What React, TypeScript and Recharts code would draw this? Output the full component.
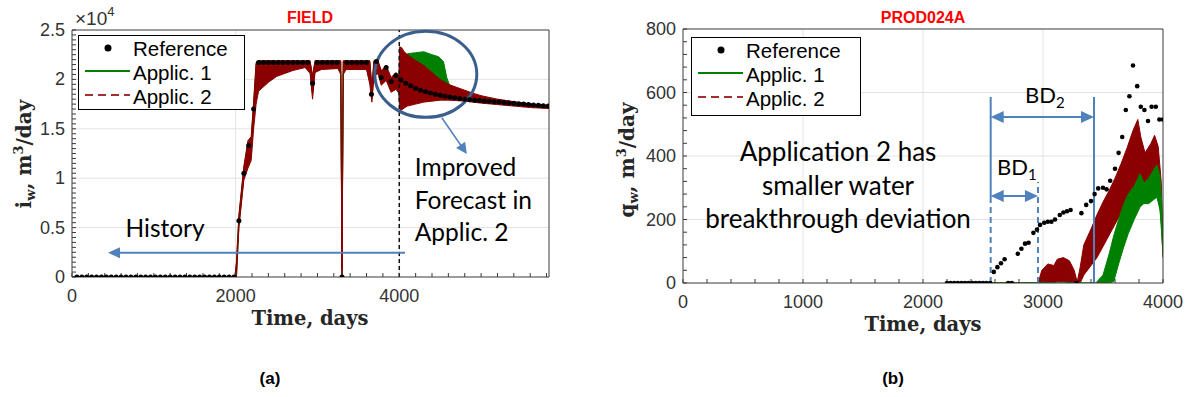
import React from "react";
import { Area, CartesianGrid, ComposedChart, Legend, Line, ReferenceDot, ReferenceLine, XAxis, YAxis } from "recharts";

// ---------- (a) FIELD: water injection rate ----------
const fieldXTicks = [0, 2000, 4000];
const fieldYTicks = [0, 5000, 10000, 15000, 20000, 25000];

const fieldRefDays = [
  60, 120, 180, 240, 300, 360, 420, 480, 540, 600, 660, 720, 780, 840, 900, 960, 1020, 1080, 1140, 1200, 1260, 1320,
  1380, 1440, 1500, 1560, 1620, 1680, 1740, 1800, 1860, 1920, 1980, 2040, 2100, 2160, 2220, 2280, 2340, 2400, 2460,
  2520, 2580, 2640, 2700, 2760, 2820, 2880, 2940, 3000, 3060, 3120, 3180, 3240, 3300, 3360, 3420, 3480, 3540, 3600,
  3660, 3720, 3780, 3840, 3900, 3960, 4020, 4080, 4140, 4200, 4260, 4320, 4380, 4440, 4500, 4560, 4620, 4680, 4740,
  4800, 4860, 4920, 4980, 5040, 5100, 5160, 5220, 5280, 5340, 5400, 5460, 5520, 5580, 5640, 5700, 5760, 5820,
];
const fieldRefRate = [
  0, 0, 0, 0, 0, 0, 0, 0, 0, 0, 0, 0, 0, 0, 0, 0, 0, 0, 0, 0, 0, 0, 0, 0, 0, 0, 0, 0, 0, 0, 0, 0, 0, 5700, 10500,
  13300, 17000, 21700, 21700, 21700, 21700, 21700, 21700, 21700, 21700, 21700, 21700, 21700, 19600, 21700, 21700,
  21700, 21700, 21700, 0, 21700, 21700, 21700, 21700, 21700, 18500, 21800, 20200, 21200, 19800, 20400, 19950, 19600,
  19350, 19100, 18900, 18750, 18620, 18500, 18400, 18300, 18220, 18140, 18070, 18000, 17950, 17900, 17860, 17820,
  17780, 17740, 17700, 17660, 17620, 17580, 17540, 17500, 17460, 17420, 17380, 17340, 17300,
];

const fieldApp1Days = [
  0, 1990, 2010, 2040, 2100, 2150, 2190, 2220, 2250, 2280, 2320, 2400, 2500, 2600, 2700, 2850, 2910, 2940, 2970, 3050,
  3250, 3285, 3300, 3315, 3350, 3600, 3640, 3665, 3690, 3740, 3780, 3840, 3900, 3960, 3995, 4005, 4050, 4100, 4200,
  4300, 4400, 4480, 4540, 4580, 4620, 4700, 4800, 5000, 5400, 5830,
];
const fieldApp1Low = [
  0, 0, 0, 5200, 10000, 12000, 12500, 16000, 18500, 20000, 20500, 20800, 21000, 21000, 21100, 21300, 20900, 18500,
  20900, 21100, 21200, 20800, 0, 20800, 21100, 21100, 19800, 18000, 20500, 20800, 19600, 20100, 19000, 19200, 18800,
  17500, 17800, 18100, 18400, 18500, 18450, 18400, 18300, 18300, 18250, 18150, 18000, 17750, 17400, 17150,
];
const fieldApp1High = [
  0, 0, 1400, 6100, 11000, 13500, 14000, 17500, 21500, 21800, 21800, 21800, 21800, 21800, 21800, 21800, 21800, 20200,
  21800, 21800, 21800, 21800, 600, 21800, 21800, 21800, 21800, 19100, 21800, 21800, 20800, 21300, 20100, 20600, 20200,
  21500, 22100, 22600, 22700, 22800, 22500, 22300, 21800, 20200, 19300, 18700, 18400, 18200, 17700, 17350,
];

const fieldApp2Days = [
  0, 1990, 2010, 2040, 2100, 2150, 2190, 2220, 2250, 2280, 2320, 2400, 2500, 2600, 2700, 2850, 2910, 2940, 2970, 3050,
  3250, 3285, 3300, 3315, 3350, 3600, 3640, 3665, 3690, 3740, 3780, 3840, 3900, 3960, 3995, 4005, 4030, 4060, 4100,
  4200, 4300, 4400, 4500, 4600, 4700, 4800, 4900, 5000, 5200, 5400, 5600, 5830,
];
const fieldApp2Low = [
  0, 0, 0, 5000, 9800, 11000, 11800, 15000, 17500, 18800, 19100, 19700, 20300, 20600, 20900, 21200, 20600, 18000,
  20700, 21000, 21100, 20500, 0, 20500, 21000, 21000, 19500, 17700, 20300, 20600, 19400, 19900, 18700, 19000, 18600,
  17000, 16900, 17100, 17300, 17500, 17700, 17800, 17900, 17900, 17850, 17800, 17700, 17600, 17450, 17300, 17150,
  17050,
];
const fieldApp2High = [
  0, 0, 1500, 6300, 11200, 13800, 14200, 17800, 21700, 21900, 21900, 21900, 21900, 21900, 21900, 21900, 21900, 20400,
  21900, 21900, 21900, 21900, 800, 21900, 21900, 21900, 21900, 19300, 21900, 21900, 20900, 21400, 20200, 20700, 20300,
  23300, 23200, 22800, 22500, 21900, 21400, 20700, 20000, 19500, 19200, 18900, 18600, 18350, 18000, 17750, 17500,
  17350,
];

// ---------- (b) PROD024A: water production rate ----------
const prodXTicks = [0, 1000, 2000, 3000, 4000];
const prodYTicks = [0, 200, 400, 600, 800];

const prodRefDays = [
  2200, 2230, 2260, 2290, 2320, 2350, 2380, 2410, 2440, 2470, 2500, 2530, 2560, 2590, 2620, 2650, 2680, 2710, 2740,
  2790, 2820, 2850, 2880, 2920, 2950, 2975, 3010, 3040, 3070, 3100, 3140, 3170, 3200, 3230, 3280, 3320, 3360, 3400,
  3430, 3460, 3500, 3530, 3560, 3600, 3630, 3660, 3690, 3720, 3750, 3785, 3815, 3845, 3875, 3905, 3940, 3970, 4000,
];
const prodRefRate = [
  0, 0, 0, 0, 0, 0, 0, 0, 0, 0, 0, 0, 0, 35, 50, 62, 75, 0, 0, 92, 108, 124, 127, 158, 168, 183, 190, 193, 193, 200,
  214, 222, 226, 230, 0, 220, 246, 258, 280, 298, 300, 295, 322, 360, 410, 460, 545, 588, 685, 620, 555, 545, 510, 555,
  555, 515, 515,
];

const prodApp1Days = [
  2560, 3440, 3500, 3550, 3590, 3630, 3670, 3710, 3760, 3810, 3840, 3880, 3920, 3950, 3975, 3990, 4000,
];
const prodApp1Low = [0, 0, 0, 0, 5, 60, 110, 155, 200, 240, 250, 250, 262, 270, 230, 150, 90];
const prodApp1High = [0, 0, 25, 90, 150, 200, 245, 280, 305, 345, 315, 330, 355, 372, 335, 250, 110];

const prodApp2Days = [
  2560, 2960, 2990, 3040, 3090, 3120, 3170, 3220, 3260, 3285, 3310, 3340, 3400, 3450, 3500, 3550, 3600, 3650, 3700,
  3750, 3790, 3815, 3850, 3900, 3930, 3960, 3985, 4000,
];
const prodApp2Low = [
  0, 0, 0, 0, 0, 5, 5, 0, 0, 0, 0, 25, 55, 80, 115, 150, 185, 220, 255, 295, 330, 320, 300, 335, 345, 290, 200, 80,
];
const prodApp2High = [
  0, 0, 40, 60, 55, 75, 80, 70, 40, 3, 50, 120, 170, 215, 255, 290, 330, 375, 425, 480, 515, 460, 410, 440, 465, 430,
  320, 120,
];

// ---------- styling ----------
const GREEN = "#008000";
const RED = "#8b0000";
const LEGEND_RED = "#a33030";
const BLUE = "#4f81bd";
const DARK_BLUE = "#3b5e8c";
const AXIS = "#3a3a3a";
const GRID = "#e3e3e3";
const SANS = "'Liberation Sans', Arial, sans-serif";
const SERIF = "'DejaVu Serif', serif";
const NOTE = "Lato, 'Open Sans', sans-serif";

const toPoints = (days: number[], vals: number[]) => days.map((t, i) => ({ t, v: vals[i] }));
const toBand = (days: number[], low: number[], high: number[]) => days.map((t, i) => ({ t, r: [low[i], high[i]] }));
const steps = (max: number, step: number) => Array.from({ length: Math.floor(max / step) + 1 }, (_, i) => i * step);

function XTick(props: any) {
  const { x, y, payload, major } = props;
  if (!major.includes(payload.value)) return <g />;
  return (
    <text x={x} y={y + 25} textAnchor="middle" fontFamily={SANS} fontSize={18} fill="#333">
      {payload.value}
    </text>
  );
}

function YTick(props: any) {
  const { x, y, payload, major, fmt } = props;
  if (!major.includes(payload.value)) return <g />;
  return (
    <text x={x - 7} y={y + 6} textAnchor="end" fontFamily={SANS} fontSize={18} fill="#333">
      {fmt(payload.value)}
    </text>
  );
}

function arrowShape(color: string, width: number, both: boolean, len = 12, half = 5.5) {
  return (props: any) => {
    const { x1, y1, x2, y2 } = props;
    const d = Math.hypot(x2 - x1, y2 - y1) || 1;
    const ux = (x2 - x1) / d;
    const uy = (y2 - y1) / d;
    const head = (tx: number, ty: number, sx: number, sy: number) => {
      const bx = tx - sx * len;
      const by = ty - sy * len;
      return `${tx},${ty} ${bx - sy * half},${by + sx * half} ${bx + sy * half},${by - sx * half}`;
    };
    const sx = both ? x1 + ux * len * 0.8 : x1;
    const sy = both ? y1 + uy * len * 0.8 : y1;
    return (
      <g>
        <line x1={sx} y1={sy} x2={x2 - ux * len * 0.8} y2={y2 - uy * len * 0.8} stroke={color} strokeWidth={width} />
        <polygon points={head(x2, y2, ux, uy)} fill={color} />
        {both && <polygon points={head(x1, y1, -ux, -uy)} fill={color} />}
      </g>
    );
  };
}

function LegendBox({ width, height }: { width: number; height: number }) {
  return (
    <svg width={width} height={height} style={{ display: "block" }}>
      <rect x={0.5} y={0.5} width={width - 1} height={height - 1} fill="#fff" stroke="#000" strokeWidth={1} />
      <circle cx={30} cy={13} r={3.5} fill="#000" />
      <line x1={7} x2={52} y1={36} y2={36} stroke={GREEN} strokeWidth={2} />
      <line x1={7} x2={52} y1={60} y2={60} stroke={LEGEND_RED} strokeWidth={2} strokeDasharray="8 5" />
      <g fontFamily={SANS} fontSize={20.5} fill="#000">
        <text x={55} y={20.5}>Reference</text>
        <text x={55} y={44.5}>Applic. 1</text>
        <text x={55} y={68.5}>Applic. 2</text>
      </g>
    </svg>
  );
}

const fieldXMinor = steps(5800, 200);
const fieldYMinor = steps(25000, 500);
const prodXMinor = steps(4000, 200);
const prodYMinor = steps(800, 40);

function FieldChart() {
  const dom: [number, number] = [0, 5830];
  const ydom: [number, number] = [0, 25000];
  return (
    <ComposedChart width={580} height={340} margin={{ top: 29, right: 30, bottom: 0, left: 0 }}>
      <CartesianGrid stroke={GRID} verticalValues={[2000, 4000]} horizontalValues={[5000, 10000, 15000, 20000]} />
      <XAxis dataKey="t" type="number" domain={dom} ticks={fieldXMinor} interval={0} allowDataOverflow height={63}
        tickSize={-4} tickMargin={4} axisLine={{ stroke: AXIS }} tickLine={{ stroke: AXIS }}
        tick={<XTick major={fieldXTicks} />} />
      <XAxis xAxisId="top" orientation="top" type="number" domain={dom} ticks={fieldXMinor} interval={0}
        allowDataOverflow height={1} tickSize={-4} tick={false} axisLine={{ stroke: AXIS }} tickLine={{ stroke: AXIS }} />
      <YAxis type="number" domain={ydom} ticks={fieldYMinor} interval={0} allowDataOverflow width={72} tickSize={-4}
        tickMargin={4} axisLine={{ stroke: AXIS }} tickLine={{ stroke: AXIS }}
        tick={<YTick major={fieldYTicks} fmt={(v: number) => String(v / 10000)} />} />
      <YAxis yAxisId="right" orientation="right" type="number" domain={ydom} ticks={fieldYMinor} interval={0}
        allowDataOverflow width={1} tickSize={-4} tick={false} axisLine={{ stroke: AXIS }} tickLine={{ stroke: AXIS }} />

      <Area data={toBand(fieldApp1Days, fieldApp1Low, fieldApp1High)} dataKey="r" type="linear" stroke={GREEN}
        strokeWidth={1} fill={GREEN} fillOpacity={1} dot={false} activeDot={false} isAnimationActive={false} />
      <Area data={toBand(fieldApp2Days, fieldApp2Low, fieldApp2High)} dataKey="r" type="linear" stroke={RED}
        strokeWidth={1} fill={RED} fillOpacity={1} dot={false} activeDot={false} isAnimationActive={false} />
      <Line data={toPoints(fieldRefDays, fieldRefRate)} dataKey="v" stroke="none"
        dot={{ r: 2.5, fill: "#000", stroke: "none" }} activeDot={false} isAnimationActive={false} />

      <ReferenceLine x={4000} stroke="#111" strokeWidth={1.5} strokeDasharray="4 3" />
      <ReferenceLine segment={[{ x: 4070, y: 2450 }, { x: 440, y: 2450 }]} shape={arrowShape(BLUE, 2, false, 12, 5.5)} />
      <ReferenceLine segment={[{ x: 4520, y: 16120 }, { x: 4826, y: 12450 }]} shape={arrowShape(BLUE, 1.5, false, 11, 5.5)} />
      <ReferenceDot x={4324} y={20510} shape={(p: any) => (
        <ellipse cx={p.cx} cy={p.cy} rx={51} ry={43} fill="none" stroke={DARK_BLUE} strokeWidth={3} />
      )} />
      <ReferenceDot x={654} y={4080} shape={(p: any) => (
        <text x={p.cx} y={p.cy} fontFamily={NOTE} fontSize={24.5} fill="#000">History</text>
      )} />
      <ReferenceDot x={4190} y={10200} shape={(p: any) => (
        <text x={p.cx} y={p.cy} fontFamily={NOTE} fontSize={24.5} fill="#000">
          <tspan x={p.cx}>Improved</tspan>
          <tspan x={p.cx} dy={32.5}>Forecast in</tspan>
          <tspan x={p.cx} dy={32.5}>Applic. 2</tspan>
        </text>
      )} />

      <Legend layout="horizontal" verticalAlign="middle" align="center"
        wrapperStyle={{ left: 78, top: 35, width: 167, height: 75 }}
        content={() => <LegendBox width={167} height={75} />} />
    </ComposedChart>
  );
}

function ProdChart() {
  const dom: [number, number] = [0, 4000];
  const ydom: [number, number] = [0, 800];
  return (
    <ComposedChart width={600} height={340} margin={{ top: 28, right: 36, bottom: 0, left: 0 }}>
      <CartesianGrid stroke={GRID} verticalValues={[1000, 2000, 3000]} horizontalValues={[200, 400, 600]} />
      <XAxis dataKey="t" type="number" domain={dom} ticks={prodXMinor} interval={0} allowDataOverflow height={57}
        tickSize={-4} tickMargin={4} axisLine={{ stroke: AXIS }} tickLine={{ stroke: AXIS }}
        tick={<XTick major={prodXTicks} />} />
      <XAxis xAxisId="top" orientation="top" type="number" domain={dom} ticks={prodXMinor} interval={0}
        allowDataOverflow height={1} tickSize={-4} tick={false} axisLine={{ stroke: AXIS }} tickLine={{ stroke: AXIS }} />
      <YAxis type="number" domain={ydom} ticks={prodYMinor} interval={0} allowDataOverflow width={83} tickSize={-4}
        tickMargin={4} axisLine={{ stroke: AXIS }} tickLine={{ stroke: AXIS }}
        tick={<YTick major={prodYTicks} fmt={(v: number) => String(v)} />} />
      <YAxis yAxisId="right" orientation="right" type="number" domain={ydom} ticks={prodYMinor} interval={0}
        allowDataOverflow width={1} tickSize={-4} tick={false} axisLine={{ stroke: AXIS }} tickLine={{ stroke: AXIS }} />

      <Area data={toBand(prodApp2Days, prodApp2Low, prodApp2High)} dataKey="r" type="linear" stroke={RED}
        strokeWidth={1} fill={RED} fillOpacity={1} dot={false} activeDot={false} isAnimationActive={false} />
      <Area data={toBand(prodApp1Days, prodApp1Low, prodApp1High)} dataKey="r" type="linear" stroke={GREEN}
        strokeWidth={1} fill={GREEN} fillOpacity={1} dot={false} activeDot={false} isAnimationActive={false} />
      <Line data={toPoints(prodRefDays, prodRefRate)} dataKey="v" stroke="none"
        dot={{ r: 2.3, fill: "#000", stroke: "none" }} activeDot={false} isAnimationActive={false} />

      <ReferenceLine segment={[{ x: 2564, y: 0 }, { x: 2564, y: 252 }]} stroke={BLUE} strokeWidth={2} strokeDasharray="6 4" />
      <ReferenceLine segment={[{ x: 2564, y: 252 }, { x: 2564, y: 586 }]} stroke={BLUE} strokeWidth={2} />
      <ReferenceLine segment={[{ x: 3425, y: 0 }, { x: 3425, y: 586 }]} stroke={BLUE} strokeWidth={2} />
      <ReferenceLine segment={[{ x: 2958, y: 0 }, { x: 2958, y: 318 }]} stroke={BLUE} strokeWidth={2} strokeDasharray="6 4" />
      <ReferenceLine segment={[{ x: 2564, y: 523 }, { x: 3425, y: 523 }]} shape={arrowShape(BLUE, 2, true, 13, 6)} />
      <ReferenceLine segment={[{ x: 2564, y: 274 }, { x: 2958, y: 274 }]} shape={arrowShape(BLUE, 2, true, 13, 6)} />
      <ReferenceDot x={2850} y={567} shape={(p: any) => (
        <text x={p.cx} y={p.cy} fontFamily={NOTE} fontSize={22} fill="#000">
          BD<tspan fontSize={15} dy={5}>2</tspan>
        </text>
      )} />
      <ReferenceDot x={2617} y={340} shape={(p: any) => (
        <text x={p.cx} y={p.cy} fontFamily={NOTE} fontSize={22} fill="#000">
          BD<tspan fontSize={15} dy={5}>1</tspan>
        </text>
      )} />
      <ReferenceDot x={1292} y={384} shape={(p: any) => (
        <text x={p.cx} y={p.cy} fontFamily={NOTE} fontSize={26} fill="#000" textAnchor="middle">
          <tspan x={p.cx}>Application 2 has</tspan>
          <tspan x={p.cx} dy={33.5}>smaller water</tspan>
          <tspan x={p.cx} dy={33.5}>breakthrough deviation</tspan>
        </text>
      )} />

      <Legend layout="horizontal" verticalAlign="middle" align="center"
        wrapperStyle={{ left: 91, top: 37, width: 170, height: 79 }}
        content={() => <LegendBox width={170} height={79} />} />
    </ComposedChart>
  );
}

export default function App() {
  return (
    <div style={{ position: "absolute", left: 0, top: 0, width: 1190, height: 397, background: "#fff", overflow: "hidden" }}>
      <div style={{ position: "absolute", left: 0, top: 0 }}>
        <FieldChart />
      </div>
      <div style={{ position: "absolute", left: 600, top: 0 }}>
        <ProdChart />
      </div>
      <svg width={1190} height={397} style={{ position: "absolute", left: 0, top: 0, pointerEvents: "none" }}>
        <text x={310} y={23} textAnchor="middle" fontFamily={SANS} fontWeight="bold" fontSize={16} fill="#ff0000">FIELD</text>
        <text x={923} y={23} textAnchor="middle" fontFamily={SANS} fontWeight="bold" fontSize={16} fill="#ff0000">PROD024A</text>
        <text x={75} y={25} fontFamily={SANS} fontSize={19} fill="#333">
          ×10<tspan fontSize={13} dy={-9}>4</tspan>
        </text>
        <text x={310} y={325} textAnchor="middle" fontFamily={SERIF} fontWeight="bold" fontSize={19.5} fill="#262626">Time, days</text>
        <text x={923} y={331} textAnchor="middle" fontFamily={SERIF} fontWeight="bold" fontSize={19.5} fill="#262626">Time, days</text>
        <text transform="translate(31,154) rotate(-90)" textAnchor="middle" fontFamily={SERIF} fontWeight="bold" fontSize={20} fill="#262626">
          i<tspan fontSize={13} dy={4}>w</tspan><tspan dy={-4}>, m</tspan><tspan fontSize={13} dy={-8}>3</tspan><tspan dy={8}>/day</tspan>
        </text>
        <text transform="translate(634,160) rotate(-90)" textAnchor="middle" fontFamily={SERIF} fontWeight="bold" fontSize={20} fill="#262626">
          q<tspan fontSize={13} dy={4}>w</tspan><tspan dy={-4}>, m</tspan><tspan fontSize={13} dy={-8}>3</tspan><tspan dy={8}>/day</tspan>
        </text>
        <text x={270} y={384} textAnchor="middle" fontFamily={SANS} fontWeight="bold" fontSize={17} fill="#000">(a)</text>
        <text x={893} y={384} textAnchor="middle" fontFamily={SANS} fontWeight="bold" fontSize={17} fill="#000">(b)</text>
      </svg>
    </div>
  );
}
